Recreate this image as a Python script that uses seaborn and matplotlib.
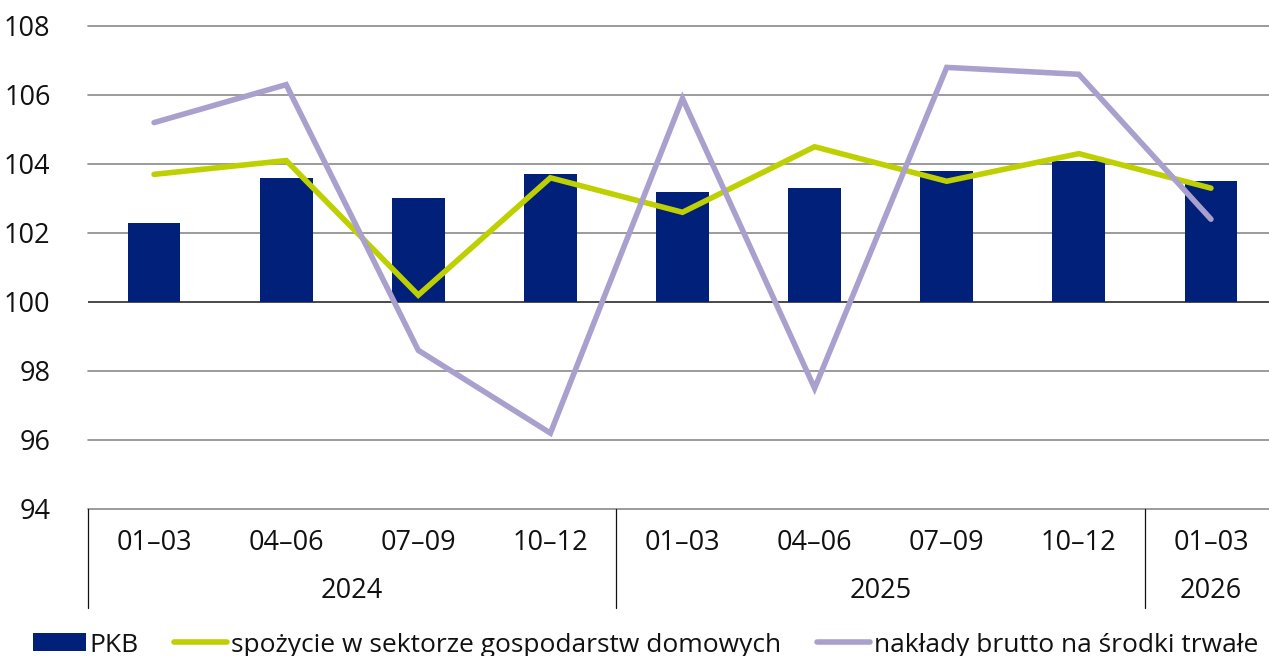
import numpy as np
import pandas as pd
import matplotlib
matplotlib.use("Agg")
import matplotlib.pyplot as plt
import matplotlib.transforms as mtransforms
from matplotlib.patches import Patch
from matplotlib.lines import Line2D
import seaborn as sns

# ---- data ----
quarters = ["01–03", "04–06", "07–09", "10–12", "01–03", "04–06", "07–09", "10–12", "01–03"]
years = ["2024", "2024", "2024", "2024", "2025", "2025", "2025", "2025", "2026"]
pkb = [102.3, 103.6, 103.0, 103.7, 103.2, 103.3, 103.8, 104.1, 103.5]
spozycie = [103.7, 104.1, 100.2, 103.6, 102.6, 104.5, 103.5, 104.3, 103.3]
naklady = [105.2, 106.3, 98.6, 96.2, 105.9, 97.5, 106.8, 106.6, 102.4]
y_ticks = [94, 96, 98, 100, 102, 104, 106, 108]
base = 100
series_labels = ["PKB", "spożycie w sektorze gospodarstw domowych", "nakłady brutto na środki trwałe"]

C_BAR = "#00207A"
C_GREEN = "#BED000"
C_PURPLE = "#AAA0CE"

sns.set_style("white")
plt.rcParams["font.family"] = ["Open Sans", "DejaVu Sans"]

df = pd.DataFrame({
    "key": [f"{y} {q}" for y, q in zip(years, quarters)],
    "pos": np.arange(len(quarters)),
    "pkb_delta": np.array(pkb) - base,
    "spozycie": spozycie,
    "naklady": naklady,
})

fig = plt.figure(figsize=(12.69, 6.56), dpi=100)
W, H = 1269, 656
left_px, right_px, top_px, bot_px = 88, 1277, 26, 509
ax = fig.add_axes([left_px / W, 1 - bot_px / H, (right_px - left_px) / W, (bot_px - top_px) / H])

sns.barplot(data=df, x="key", y="pkb_delta", color=C_BAR, saturation=1, width=0.40,
            bottom=base, ax=ax, zorder=3, linewidth=0)
sns.lineplot(data=df, x="pos", y="spozycie", color=C_GREEN, lw=4.0, ax=ax, zorder=4,
             solid_capstyle="round", solid_joinstyle="miter")
sns.lineplot(data=df, x="pos", y="naklady", color=C_PURPLE, lw=4.0, ax=ax, zorder=5,
             solid_capstyle="round", solid_joinstyle="miter")

ax.set_xlim(-0.5, len(quarters) - 0.5)
ax.set_ylim(y_ticks[0], y_ticks[-1])
ax.set_yticks(y_ticks)
ax.set_yticklabels([str(t) for t in y_ticks], fontsize=19.5, color="#111111")
ax.tick_params(axis="y", length=0, pad=27)
ax.set_xticks([])
ax.set_xlabel("")
ax.set_ylabel("")
for s in ax.spines.values():
    s.set_visible(False)

for t in y_ticks:
    if t == base:
        ax.axhline(t, color="#3a3a3a", lw=1.3, zorder=2)
    else:
        ax.axhline(t, color="#8a8a8a", lw=1.2, zorder=1, clip_on=False)

trans = mtransforms.blended_transform_factory(ax.transData, ax.transAxes)
ax_h = bot_px - top_px
def fy(px):
    return -(px - bot_px) / ax_h

# quarter labels
for i, q in enumerate(quarters):
    ax.text(i, fy(550), q, transform=trans, ha="center", va="baseline", fontsize=19.5, color="#111111")

# year labels and separators
year_list = []
for y in years:
    if y not in year_list:
        year_list.append(y)
bounds = [-0.5]
for y in year_list:
    idx = [i for i, yy in enumerate(years) if yy == y]
    ax.text((idx[0] + idx[-1]) / 2, fy(598), y, transform=trans, ha="center", va="baseline",
            fontsize=19.5, color="#111111")
    bounds.append(idx[-1] + 0.5)
for b in bounds:
    ax.plot([b, b], [0, fy(608)], transform=trans, color="#111111", lw=0.9, clip_on=False)

handles = [
    Patch(facecolor=C_BAR, edgecolor="none"),
    Line2D([0], [0], color=C_GREEN, lw=4, solid_capstyle="round"),
    Line2D([0], [0], color=C_PURPLE, lw=4, solid_capstyle="round"),
]
fig.legend(handles, series_labels, loc="center left", bbox_to_anchor=(33 / W, 1 - 645 / H),
           ncol=3, frameon=False, fontsize=19, handlelength=2.0, handleheight=0.65,
           handletextpad=0.15, columnspacing=1.35, borderpad=0, borderaxespad=0,
           labelcolor="#111111")

fig.savefig("out.png", dpi=100)
